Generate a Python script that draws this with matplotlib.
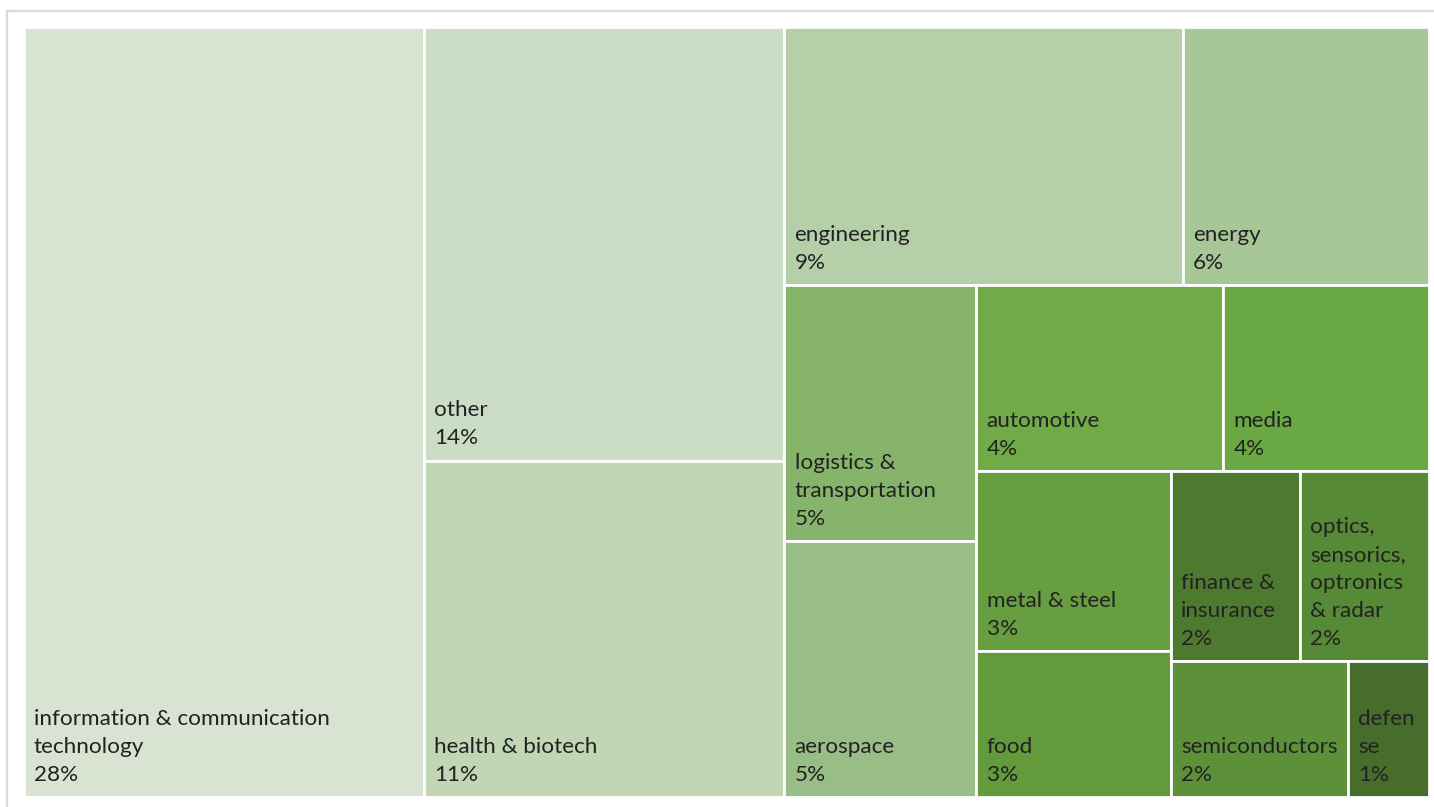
import matplotlib
matplotlib.use("Agg")
import matplotlib.pyplot as plt
from matplotlib.patches import Rectangle

# ---- data ----
categories = [
    "information & communication\ntechnology",
    "other",
    "health & biotech",
    "engineering",
    "energy",
    "logistics &\ntransportation",
    "aerospace",
    "automotive",
    "media",
    "metal & steel",
    "food",
    "finance &\ninsurance",
    "optics,\nsensorics,\noptronics\n& radar",
    "semiconductors",
    "defen\nse",
]
values = [28.2, 14.3, 11.1, 9.4, 5.8, 4.5, 4.5, 4.2, 3.5, 3.2, 2.6, 2.25, 2.25, 2.2, 1.0]
colors = [
    "#d8e3d2", "#ccddc5", "#c0d6b5", "#b5cfa8", "#a7c896",
    "#86b46a", "#98bd86", "#70ab47", "#6aa843", "#669e40",
    "#629a3c", "#4e7a2f", "#578a36", "#5c913a", "#466d2b",
]

# ---- squarified treemap layout ----
def _place(sizes, x, y, dx, dy):
    covered = sum(sizes)
    rects = []
    if dx >= dy:  # column along the left side
        w = covered / dy
        for s in sizes:
            rects.append((x, y, w, s / w))
            y += s / w
    else:  # row along the top side
        h = covered / dx
        for s in sizes:
            rects.append((x, y, s / h, h))
            x += s / h
    return rects


def _leftover(sizes, x, y, dx, dy):
    covered = sum(sizes)
    if dx >= dy:
        w = covered / dy
        return x + w, y, dx - w, dy
    h = covered / dx
    return x, y + h, dx, dy - h


def _worst(sizes, x, y, dx, dy):
    return max(max(r[2] / r[3], r[3] / r[2]) for r in _place(sizes, x, y, dx, dy))


def squarify(sizes, x, y, dx, dy):
    if not sizes:
        return []
    if len(sizes) == 1:
        return _place(sizes, x, y, dx, dy)
    i = 1
    while i < len(sizes) and _worst(sizes[:i], x, y, dx, dy) >= _worst(sizes[:i + 1], x, y, dx, dy):
        i += 1
    cur, rest = sizes[:i], sizes[i:]
    lx, ly, ldx, ldy = _leftover(cur, x, y, dx, dy)
    return _place(cur, x, y, dx, dy) + squarify(rest, lx, ly, ldx, ldy)


W, H = 1405.0, 770.0
total = sum(values)
norm = [v * W * H / total for v in values]
rects = squarify(norm, 0.0, 0.0, W, H)

# ---- figure ----
fig = plt.figure(figsize=(14.34, 8.07), dpi=100)
fig.patch.set_facecolor("white")

# outer chart frame (only top/left visible in the crop)
frame = Rectangle((7 / 1434, -0.05), 1.1, 1 - 10.5 / 807 + 0.05, transform=fig.transFigure,
                  fill=False, edgecolor="#d9d9d9", linewidth=1.6, zorder=0)
fig.patches.append(frame)

ax = fig.add_axes([23.5 / 1434, 1 - 797 / 807, W / 1434, H / 807])
ax.set_xlim(0, W)
ax.set_ylim(H, 0)
ax.axis("off")

for (x, y, w, h), lab, v, c in zip(rects, categories, values, colors):
    ax.add_patch(Rectangle((x, y), w, h, facecolor=c, edgecolor="white", linewidth=2.0))
    pct = f"{round(v / total * 100):d}%"
    ax.annotate(f"{lab}\n{pct}", xy=(x, y + h), xytext=(7.5, 8.8),
                textcoords="offset points", ha="left", va="bottom",
                fontsize=16.2, family="Lato", color="#222222", linespacing=1.5)

fig.savefig("out.png", dpi=100, facecolor="white")
